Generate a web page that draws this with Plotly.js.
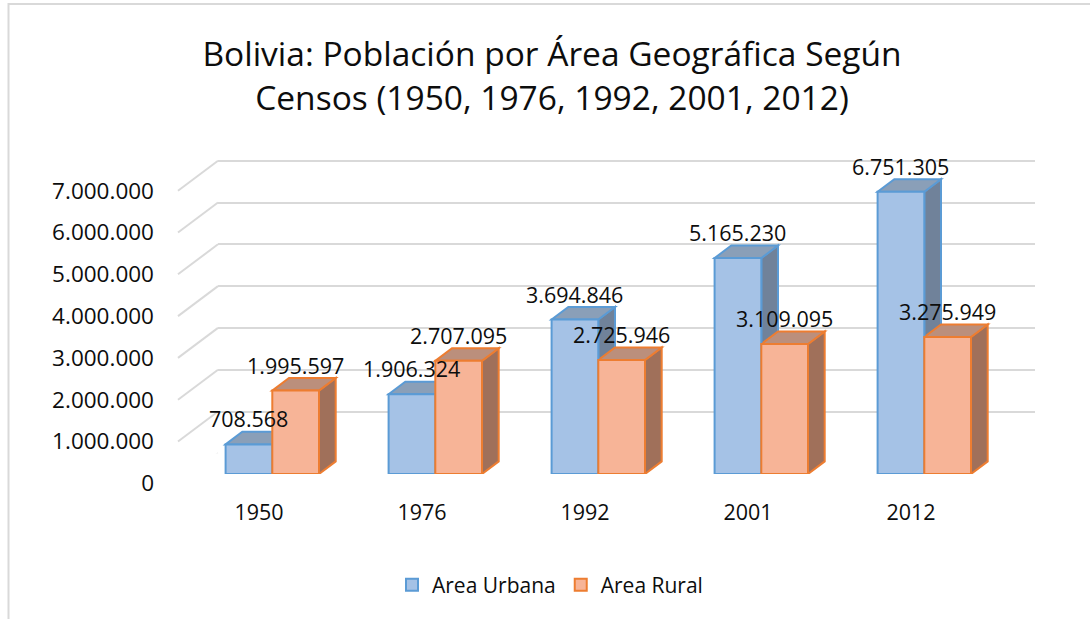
<!DOCTYPE html>
<html>
<head>
<meta charset="utf-8">
<script src="https://cdn.plot.ly/plotly-3.0.1.min.js"></script>
<style>html,body{margin:0;padding:0;background:#fff;}#chart{width:1090px;height:619px;}</style>
</head>
<body>
<div id="chart"></div>
<script>
// ---- data ----
const categories = ['1950', '1976', '1992', '2001', '2012'];
const areaUrbana = [708568, 1906324, 3694846, 5165230, 6751305];
const areaRural = [1995597, 2707095, 2725946, 3109095, 3275949];
const seriesNames = ['Area Urbana', 'Area Rural'];
const yTickVals = [0, 1000000, 2000000, 3000000, 4000000, 5000000, 6000000, 7000000];
const titleText = 'Bolivia: Población por Área Geográfica Según<br>Censos (1950, 1976, 1992, 2001, 2012)';

// ---- layout helpers (pixel -> paper fractions) ----
const W = 1090, H = 619;
const px = v => v / W;
const py = v => 1 - v / H;
const FONT = 'Open Sans, Noto Sans, sans-serif';
const PX_PER_M = 41.8;          // pixels per 1,000,000
const YMAX = 8000000;
const yh = YMAX / 1e6 * PX_PER_M;
const BARGAP = 0.427;
const bw = (1 - BARGAP) / 2;     // width of one bar in category units
const catPx = 163;               // pixels per category
const depthX = 16.7 / catPx;     // depth offset in category units
const depthY = 12.6 / PX_PER_M * 1e6; // depth offset in data units

const xIdx = categories.map((c, i) => i);

const colors = {
  urb: {front: '#a5c2e6', line: '#5b9bd5', side: '#70829a', top: '#8a9fb8'},
  rur: {front: '#f7b497', line: '#ed7d31', side: '#a0705a', top: '#bb8f7c'}
};

const traces = [
  {type: 'bar', name: seriesNames[0], x: xIdx, y: areaUrbana, xaxis: 'x2', yaxis: 'y2',
   marker: {color: colors.urb.front, line: {color: colors.urb.line, width: 2}}, hoverinfo: 'y'},
  {type: 'bar', name: seriesNames[1], x: xIdx, y: areaRural, xaxis: 'x2', yaxis: 'y2',
   marker: {color: colors.rur.front, line: {color: colors.rur.line, width: 2}}, hoverinfo: 'y'},
  // carrier for the front-plane category / value axes (draws nothing)
  {type: 'scatter', mode: 'none', x: xIdx, y: xIdx.map(() => 0), xaxis: 'x3', yaxis: 'y3',
   showlegend: false, hoverinfo: 'skip'}
];

const shapes = [];
// outer border
shapes.push({type: 'rect', xref: 'paper', yref: 'paper', x0: px(8.5), x1: px(1100), y0: py(630), y1: py(4),
  line: {color: '#d9d9d9', width: 2}, fillcolor: 'rgba(0,0,0,0)', layer: 'below'});
// diagonal wall/floor lines for each gridline
yTickVals.forEach(v => {
  shapes.push({type: 'line', xref: 'paper', yref: 'y', ysizemode: 'pixel', yanchor: v,
    x0: px(218), y0: 0, x1: px(178), y1: -30, line: {color: '#d9d9d9', width: 2}, layer: 'below'});
});
// 3D faces of bars
function faces(values, side, c) {
  values.forEach((v, i) => {
    const a = side === 0 ? i - bw : i;
    const b = a + bw;
    shapes.push({type: 'path', xref: 'x2', yref: 'y2', layer: 'below',
      path: `M${b},0 L${b + depthX},${depthY} L${b + depthX},${v + depthY} L${b},${v} Z`,
      fillcolor: c.side, line: {color: c.line, width: 2}});
    shapes.push({type: 'path', xref: 'x2', yref: 'y2', layer: 'below',
      path: `M${a},${v} L${a + depthX},${v + depthY} L${b + depthX},${v + depthY} L${b},${v} Z`,
      fillcolor: c.top, line: {color: c.line, width: 2}});
  });
}
faces(areaUrbana, 0, colors.urb);
faces(areaRural, 1, colors.rur);

// data labels
const fmt = n => String(n).replace(/\B(?=(\d{3})+(?!\d))/g, '.');
const annotations = [];
[areaUrbana, areaRural].forEach((vals, s) => {
  vals.forEach((v, i) => {
    annotations.push({xref: 'x2', yref: 'y2', x: s === 0 ? i - bw / 2 : i + bw / 2, y: v,
      yshift: 25.5, text: fmt(v), showarrow: false, xanchor: 'center', yanchor: 'middle',
      font: {family: FONT, size: 21.5, color: '#0d0d0d'}});
  });
});

const layout = {
  width: W, height: H,
  margin: {l: 0, r: 0, t: 0, b: 0},
  paper_bgcolor: '#ffffff', plot_bgcolor: 'rgba(0,0,0,0)',
  separators: ',.',
  font: {family: FONT, size: 21, color: '#0d0d0d'},
  title: {text: titleText, x: px(552), xanchor: 'center', y: py(66), yanchor: 'top', yref: 'container',
    font: {family: FONT, size: 33.5, color: '#0d0d0d'}},
  showlegend: true,
  legend: {orientation: 'h', x: px(550), xanchor: 'center', y: py(585), yanchor: 'middle',
    font: {family: FONT, size: 21, color: '#0d0d0d'}, traceorder: 'normal', itemwidth: 30},
  barmode: 'group', bargap: BARGAP, bargroupgap: 0,
  // back wall grid
  xaxis: {domain: [px(218), px(1035)], range: [0, 1], visible: false, anchor: 'y', fixedrange: true},
  yaxis: {domain: [py(453.3), py(453.3 - yh)], range: [0, YMAX], anchor: 'x', showgrid: true,
    gridcolor: '#d9d9d9', gridwidth: 2, zeroline: false, showticklabels: false, ticks: '',
    tickmode: 'array', tickvals: yTickVals, showline: false, fixedrange: true},
  // bars
  xaxis2: {domain: [px(190.8), px(1005.8)], range: [-0.5, 4.5], visible: false, anchor: 'y2', fixedrange: true},
  yaxis2: {domain: [py(474), py(474 - yh)], range: [0, YMAX], visible: false, anchor: 'x2', fixedrange: true},
  // front plane labels
  xaxis3: {domain: [px(190.8 - 13.3), px(1005.8 - 13.3)], range: [-0.5, 4.5], anchor: 'y3',
    tickmode: 'array', tickvals: xIdx, ticktext: categories, showgrid: false, zeroline: false, showline: false,
    ticks: 'outside', ticklen: 10, tickcolor: 'rgba(0,0,0,0)', fixedrange: true,
    tickfont: {family: FONT, size: 21.5, color: '#0d0d0d'}},
  yaxis3: {domain: [py(483.3), py(483.3 - yh)], range: [0, YMAX], anchor: 'x3',
    tickmode: 'array', tickvals: yTickVals, tickformat: ',d', showgrid: false, zeroline: false, showline: false,
    ticks: 'outside', ticklen: 18, tickcolor: 'rgba(0,0,0,0)', fixedrange: true,
    tickfont: {family: FONT, size: 22.5, color: '#0d0d0d'}},
  shapes: shapes,
  annotations: annotations
};

Plotly.newPlot('chart', traces, layout, {displayModeBar: false, staticPlot: true});
</script>
</body>
</html>
